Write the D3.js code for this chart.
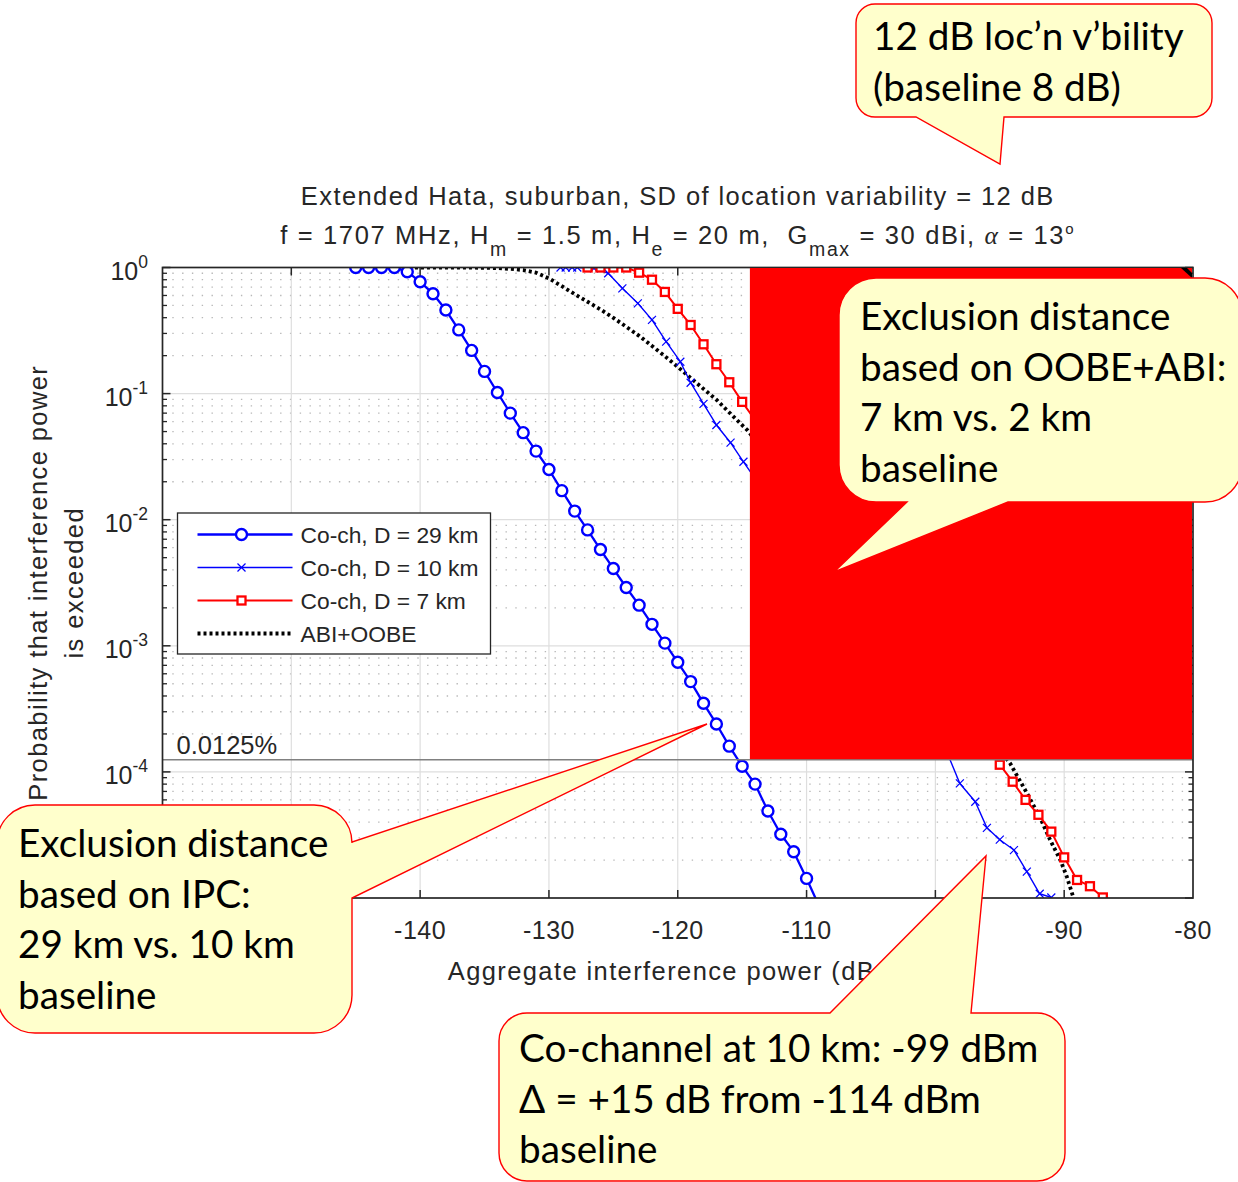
<!DOCTYPE html>
<html>
<head>
<meta charset="utf-8">
<script src="https://cdn.jsdelivr.net/npm/d3@7"></script>
<style>
  html, body { margin: 0; padding: 0; background: #ffffff; }
  svg { display: block; }
  text { white-space: pre; }
</style>
</head>
<body>
<svg id="chart" width="1238" height="1182"></svg>
<script>
// ---- Exceedance curves: aggregate interference power (dBm) vs. probability ----
const coch29Power = [-145,-144,-143,-142,-141,-140,-139,-138,-137,-136,-135,-134,-133,-132,-131,-130,-129,-128,-127,-126,-125,-124,-123,-122,-121,-120,-119,-118,-117,-116,-115,-114,-113,-112,-111,-110,-109];
const coch29Prob  = [1,1,1,1,0.926,0.77,0.62,0.46,0.32,0.22,0.15,0.102,0.070,0.049,0.035,0.025,0.017,0.0117,0.0083,0.0058,0.0041,0.0029,0.0021,0.00148,0.00105,0.00074,0.00052,0.00035,0.00024,0.00016,0.000111,0.00008,0.000049,0.000032,0.0000233,0.0000143,0.0000085];

const coch10Power = [-129.1,-128.7,-128.2,-127.8,-126.5,-125.4,-124.3,-123.1,-122,-120.9,-119.8,-119,-118,-117,-115.9,-114.9,-99,-98.1,-96.9,-96,-95,-93.9,-92.9,-91.9,-91];
const coch10Prob  = [1,1,1,1,0.985,0.9,0.684,0.52,0.384,0.258,0.179,0.122,0.083,0.0564,0.0408,0.0288,0.000135,0.000081,0.000058,0.000036,0.000029,0.000024,0.0000162,0.0000108,0.0000101];

const coch7Power = [-127,-126,-125,-124,-123,-122,-121,-120,-119,-118,-117,-116,-115,-95,-94,-93,-92,-91,-90,-89,-88,-87];
const coch7Prob  = [1,1,1,1,0.91,0.80,0.64,0.47,0.35,0.246,0.171,0.123,0.086,0.000114,0.0000836,0.00006,0.0000457,0.0000336,0.000021,0.0000139,0.0000124,0.0000101];

const abiOobePower = [-140.4,-138,-136,-134,-133,-132,-131,-130,-129,-128,-127,-126,-125,-124,-123,-122,-121,-120,-119,-118,-117,-116,-115,-114.6,-94.2,-92.9,-91.9,-91.1,-90.3,-89.8,-89.3];
const abiOobeProb  = [1,0.999,0.997,0.99,0.975,0.955,0.91,0.82,0.711,0.615,0.535,0.465,0.399,0.339,0.287,0.239,0.198,0.163,0.133,0.109,0.0895,0.0708,0.0562,0.0514,0.000117,0.000068,0.000044,0.000029,0.00002,0.0000148,0.0000102];

const seriesNames = ["Co-ch, D = 29 km", "Co-ch, D = 10 km", "Co-ch, D = 7 km", "ABI+OOBE"];

// tick positions; labels are only printed where they are not under a callout
const xTickValues = [-160,-150,-140,-130,-120,-110,-100,-90,-80];
const xTickLabels = ["-140","-130","-120","-110","-90","-80"];
const yTickExponents = [0,-1,-2,-3,-4,-5];
const yTickLabelExponents = ["0","-1","-2","-3","-4"];

const protectionLevel = 1.25e-4;           // 0.0125 % criterion
const protectionLabel = "0.0125%";

const titleLine1 = "Extended Hata, suburban, SD of location variability = 12 dB";
const xAxisLabel = "Aggregate interference power (dBm)";
const yAxisLabel = ["Probability that interference power", "is exceeded"];

// ---- layout ----
const svg = d3.select("#chart");
const plot = { left: 162.5, right: 1193, top: 267.5, bottom: 898 };
const axisColor = "#262626";
const axisFont = "'Liberation Sans', Arial, Helvetica, sans-serif";

const x = d3.scaleLinear().domain([-160, -80]).range([plot.left, plot.right]);
const y = d3.scaleLog().domain([1e-5, 1]).range([plot.bottom, plot.top]);

svg.append("defs").append("clipPath").attr("id", "plotClip")
  .append("rect")
  .attr("x", plot.left).attr("y", plot.top)
  .attr("width", plot.right - plot.left).attr("height", plot.bottom - plot.top);

// ---- grid ----
const grid = svg.append("g");
const minorVals = [];
for (let e = -5; e < 0; e++) for (let m = 2; m <= 9; m++) minorVals.push(m * Math.pow(10, e));
grid.selectAll("line.minor").data(minorVals).join("line")
  .attr("x1", plot.left).attr("x2", plot.right)
  .attr("y1", d => y(d)).attr("y2", d => y(d))
  .attr("stroke", "#b8b8b8").attr("stroke-width", 1.3)
  .attr("stroke-dasharray", "1.4,8.4");
grid.selectAll("line.majorY").data(yTickExponents.slice(1, -1)).join("line")
  .attr("x1", plot.left).attr("x2", plot.right)
  .attr("y1", d => y(Math.pow(10, d))).attr("y2", d => y(Math.pow(10, d)))
  .attr("stroke", "#dedede").attr("stroke-width", 1.2);
grid.selectAll("line.majorX").data(xTickValues.slice(1, -1)).join("line")
  .attr("x1", d => x(d)).attr("x2", d => x(d))
  .attr("y1", plot.top).attr("y2", plot.bottom)
  .attr("stroke", "#dedede").attr("stroke-width", 1.2);

// ---- series ----
const series = [
  { power: coch29Power, prob: coch29Prob, color: "#0000ff", width: 2.3, marker: "circle" },
  { power: coch10Power, prob: coch10Prob, color: "#0000ff", width: 1.4, marker: "cross" },
  { power: coch7Power,  prob: coch7Prob,  color: "#ff0000", width: 2.0, marker: "square" },
  { power: abiOobePower, prob: abiOobeProb, color: "#000000", width: 3.8, marker: "none", dash: "3,3" }
];

const line = d3.line().x(d => x(d[0])).y(d => y(d[1]));
const plotLayer = svg.append("g").attr("clip-path", "url(#plotClip)");

function drawMarker(sel, type, color) {
  if (type === "circle") {
    sel.append("circle").attr("r", 5.5).attr("fill", "#fff")
      .attr("stroke", color).attr("stroke-width", 2.4);
  } else if (type === "square") {
    sel.append("rect").attr("x", -4).attr("y", -4).attr("width", 8).attr("height", 8)
      .attr("fill", "#fff").attr("stroke", color).attr("stroke-width", 2.3);
  } else if (type === "cross") {
    sel.append("path").attr("d", "M-4,-4L4,4M-4,4L4,-4")
      .attr("fill", "none").attr("stroke", color).attr("stroke-width", 1.2);
  }
}

// dotted aggregate curve first, then the co-channel curves on top
[3, 0, 1, 2].forEach(i => {
  const s = series[i];
  const pts = s.power.map((p, k) => [p, s.prob[k]]);
  plotLayer.append("path").datum(pts)
    .attr("d", line)
    .attr("fill", "none")
    .attr("stroke", s.color)
    .attr("stroke-width", s.width)
    .attr("stroke-dasharray", s.dash || null)
    .attr("stroke-linejoin", "round");
  if (s.marker !== "none") {
    plotLayer.append("g").selectAll("g").data(pts).join("g")
      .attr("transform", d => `translate(${x(d[0])},${y(d[1])})`)
      .each(function () { drawMarker(d3.select(this), s.marker, s.color); });
  }
});

// ---- protection criterion line ----
svg.append("line")
  .attr("x1", plot.left).attr("x2", plot.right)
  .attr("y1", y(protectionLevel)).attr("y2", y(protectionLevel))
  .attr("stroke", "#808080").attr("stroke-width", 1.6);
svg.append("text")
  .attr("x", plot.left + 14).attr("y", y(protectionLevel) - 6)
  .attr("font-family", axisFont).attr("font-size", 25.5)
  .attr("fill", axisColor)
  .text(protectionLabel);

// ---- legend ----
const legend = svg.append("g").attr("transform", "translate(177.5,513)");
legend.append("rect").attr("width", 313).attr("height", 141)
  .attr("fill", "#fff").attr("stroke", axisColor).attr("stroke-width", 1.3);
seriesNames.forEach((name, i) => {
  const s = series[i];
  const cy = 21.5 + i * 33;
  const row = legend.append("g").attr("transform", `translate(0,${cy})`);
  row.append("line").attr("x1", 20).attr("x2", 115).attr("y1", 0).attr("y2", 0)
    .attr("stroke", s.color).attr("stroke-width", s.width)
    .attr("stroke-dasharray", s.dash || null);
  if (s.marker !== "none") {
    const m = row.append("g").attr("transform", "translate(64,0)");
    drawMarker(m, s.marker, s.color);
  }
  row.append("text").attr("x", 123).attr("y", 8)
    .attr("font-family", axisFont).attr("font-size", 22.8)
    .attr("fill", axisColor).text(name);
});

// ---- axes frame and ticks ----
const frame = svg.append("g").attr("stroke", axisColor).attr("fill", "none");
frame.append("rect")
  .attr("x", plot.left).attr("y", plot.top)
  .attr("width", plot.right - plot.left).attr("height", plot.bottom - plot.top)
  .attr("stroke-width", 1.7);
xTickValues.slice(1, -1).forEach(v => {
  frame.append("line").attr("x1", x(v)).attr("x2", x(v))
    .attr("y1", plot.bottom).attr("y2", plot.bottom - 8).attr("stroke-width", 1.5);
  frame.append("line").attr("x1", x(v)).attr("x2", x(v))
    .attr("y1", plot.top).attr("y2", plot.top + 8).attr("stroke-width", 1.5);
});
yTickExponents.forEach(e => {
  const yy = y(Math.pow(10, e));
  frame.append("line").attr("x1", plot.left).attr("x2", plot.left + 8)
    .attr("y1", yy).attr("y2", yy).attr("stroke-width", 1.5);
  frame.append("line").attr("x1", plot.right).attr("x2", plot.right - 8)
    .attr("y1", yy).attr("y2", yy).attr("stroke-width", 1.5);
});
minorVals.forEach(v => {
  const yy = y(v);
  frame.append("line").attr("x1", plot.left).attr("x2", plot.left + 4.5)
    .attr("y1", yy).attr("y2", yy).attr("stroke-width", 1.3);
  frame.append("line").attr("x1", plot.right).attr("x2", plot.right - 4.5)
    .attr("y1", yy).attr("y2", yy).attr("stroke-width", 1.3);
});

// tick labels
svg.append("g").selectAll("text").data(xTickLabels).join("text")
  .attr("x", d => x(+d)).attr("y", plot.bottom + 41)
  .attr("text-anchor", "middle")
  .attr("font-family", axisFont).attr("font-size", 25)
  .attr("letter-spacing", 0.5)
  .attr("fill", axisColor)
  .text(d => d);

const yLabels = svg.append("g").selectAll("text").data(yTickLabelExponents).join("text")
  .attr("x", 148).attr("y", d => y(Math.pow(10, +d)) + 12)
  .attr("text-anchor", "end")
  .attr("font-family", axisFont).attr("font-size", 25)
  .attr("fill", axisColor);
yLabels.append("tspan").text("10");
yLabels.append("tspan").attr("dy", -12).attr("font-size", 17.5).text(d => d);

// axis titles
svg.append("text")
  .attr("x", (plot.left + plot.right) / 2).attr("y", 980)
  .attr("text-anchor", "middle")
  .attr("font-family", axisFont).attr("font-size", 25.5)
  .attr("letter-spacing", 1.4).attr("fill", axisColor)
  .text(xAxisLabel);

const yMid = (plot.top + plot.bottom) / 2;
yAxisLabel.forEach((t, i) => {
  svg.append("text")
    .attr("transform", `translate(${47 + i * 36},${yMid}) rotate(-90)`)
    .attr("text-anchor", "middle")
    .attr("font-family", axisFont).attr("font-size", 25.5)
    .attr("letter-spacing", 1.4).attr("fill", axisColor)
    .text(t);
});

// chart title (two lines, second with sub-/superscripts)
const cx = (plot.left + plot.right) / 2;
svg.append("text")
  .attr("x", cx).attr("y", 205).attr("text-anchor", "middle")
  .attr("font-family", axisFont).attr("font-size", 25.5)
  .attr("letter-spacing", 1.4).attr("fill", axisColor)
  .text(titleLine1);

const t2 = svg.append("text")
  .attr("x", cx).attr("y", 244).attr("text-anchor", "middle")
  .attr("font-family", axisFont).attr("font-size", 25.5)
  .attr("letter-spacing", 1.65).attr("fill", axisColor);
const t2parts = [
  ["f = 1707 MHz, H", 0, null],
  ["m", 12, "sub"],
  [" = 1.5 m, H", -12, null],
  ["e", 12, "sub"],
  [" = 20 m,  G", -12, null],
  ["max", 12, "sub"],
  [" = 30 dBi, ", -12, null],
  ["α", 0, "greek"],
  [" = 13", 0, null],
  ["o", -10, "sup"]
];
t2parts.forEach(([txt, dy, kind]) => {
  const ts = t2.append("tspan").attr("dy", dy).text(txt);
  if (kind === "sub") ts.attr("font-size", 19.5);
  if (kind === "sup") ts.attr("font-size", 15);
  if (kind === "greek") ts.attr("font-family", "'Liberation Serif', 'DejaVu Serif', serif")
    .attr("font-style", "italic");
});

// ---- red overlay block across the upper-right of the axes ----
const blockPower = [-114.4, -80];
const blockProb = [protectionLevel, 1];
const bx0 = x(blockPower[0]), bx1 = x(blockPower[1]) - 1;
const by0 = y(blockProb[1]) + 0.5, by1 = y(blockProb[0]) - 0.5;
svg.append("rect")
  .attr("x", bx0).attr("y", by0)
  .attr("width", bx1 - bx0).attr("height", by1 - by0)
  .attr("fill", "#ff0000");
svg.append("polygon")
  .attr("points", [[bx1 - 11, by0], [bx1 - 5, by0], [bx1, by0 + 5], [bx1, by0 + 10]].map(p => p.join(",")).join(" "))
  .attr("fill", "#000");

// ---- speech-bubble callouts ----
const callouts = [
  { lines: ["12 dB loc\u2019n v\u2019bility", "(baseline 8 dB)"],
    box: [856, 4, 356, 113], r: 19,
    tail: { side: "bottom", from: 916, to: 1004, tip: [1000, 164] },
    text: [873, 50] },
  { lines: ["Exclusion distance", "based on OOBE+ABI:", "7 km vs. 2 km", "baseline"],
    box: [839, 278, 403, 224], r: 37,
    tail: { side: "bottom", from: 907, to: 1008, tip: [834, 572] },
    text: [860, 330] },
  { lines: ["Exclusion distance", "based on IPC:", "29 km vs. 10 km", "baseline"],
    box: [-3, 805, 355, 228], r: 38,
    tail: { side: "right", from: 842, to: 898, tip: [707, 724] },
    text: [18, 857] },
  { lines: ["Co-channel at 10 km: -99 dBm", "\u0394 = +15 dB from -114 dBm", "baseline"],
    box: [499, 1013, 566, 168], r: 28,
    tail: { side: "top", from: 830, to: 971, tip: [986, 856] },
    text: [519, 1062] }
];

function bubblePath(c) {
  const [bx, by, bw, bh] = c.box, r = c.r, t = c.tail;
  const p = d3.path();
  p.moveTo(bx + r, by);
  if (t.side === "top") { p.lineTo(t.from, by); p.lineTo(t.tip[0], t.tip[1]); p.lineTo(t.to, by); }
  p.lineTo(bx + bw - r, by);
  p.arcTo(bx + bw, by, bx + bw, by + r, r);
  if (t.side === "right") { p.lineTo(bx + bw, t.from); p.lineTo(t.tip[0], t.tip[1]); p.lineTo(bx + bw, t.to); }
  p.lineTo(bx + bw, by + bh - r);
  p.arcTo(bx + bw, by + bh, bx + bw - r, by + bh, r);
  if (t.side === "bottom") { p.lineTo(t.to, by + bh); p.lineTo(t.tip[0], t.tip[1]); p.lineTo(t.from, by + bh); }
  p.lineTo(bx + r, by + bh);
  p.arcTo(bx, by + bh, bx, by + bh - r, r);
  p.lineTo(bx, by + r);
  p.arcTo(bx, by, bx + r, by, r);
  p.closePath();
  return p.toString();
}

const bubbleFont = "Lato, 'Open Sans', 'DejaVu Sans', sans-serif";
callouts.forEach(c => {
  const g = svg.append("g");
  g.append("path").attr("d", bubblePath(c))
    .attr("fill", "#ffffcc").attr("stroke", "#ff0000").attr("stroke-width", 1.4)
    .attr("stroke-linejoin", "miter");
  c.lines.forEach((ln, i) => {
    g.append("text")
      .attr("x", c.text[0]).attr("y", c.text[1] + i * 50.5)
      .attr("font-family", bubbleFont).attr("font-size", 38.7)
      .attr("fill", "#000")
      .text(ln);
  });
});
</script>
</body>
</html>
